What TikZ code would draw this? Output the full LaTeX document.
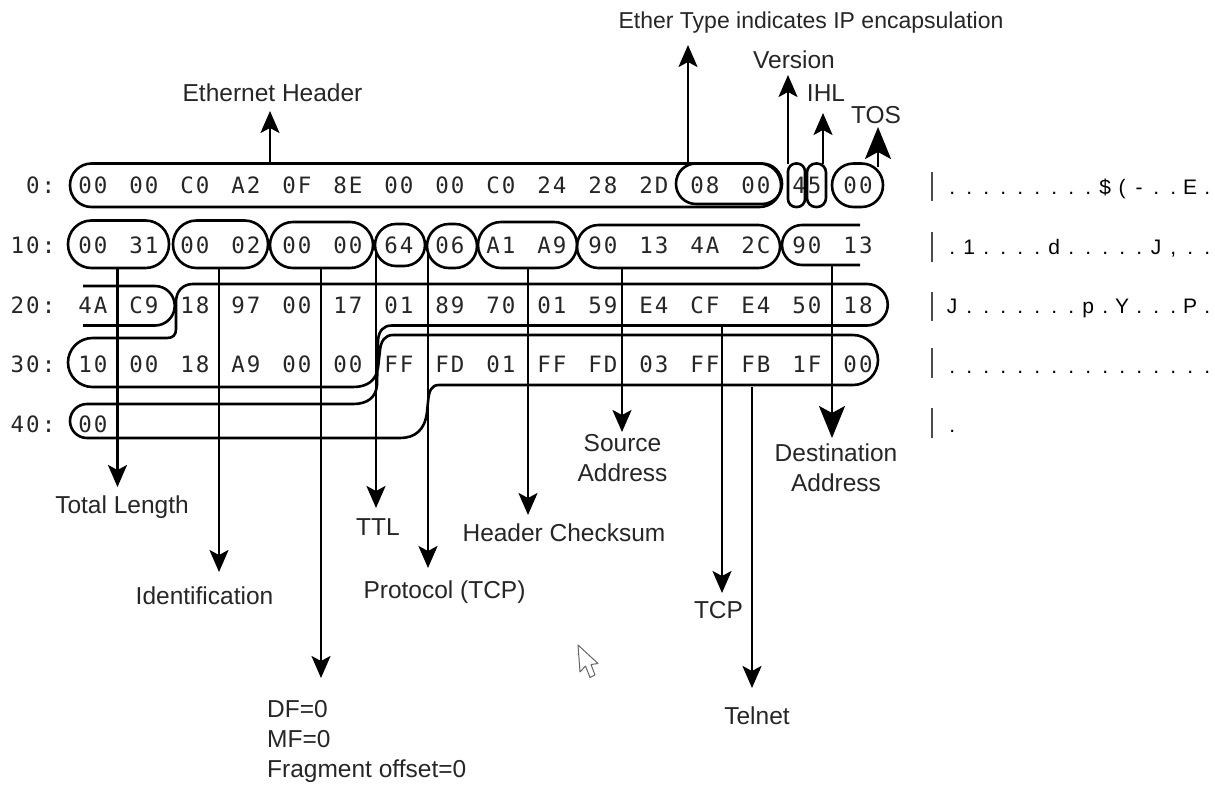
\documentclass[tikz,border=0pt]{standalone}
\usepackage{fontspec}
\setmainfont{Liberation Sans}
\newfontfamily\hexfont{DejaVu Sans Mono}[LetterSpace=9]
\usetikzlibrary{arrows.meta}
\makeatletter
\newcommand{\ascrow}[1]{\@tfor\asctok:=#1\do{\makebox[17pt]{\asctok}}}
\makeatother
\tikzset{
  x=1pt,y=-1pt,
  hex/.style={font=\hexfont\fontsize{22.5}{24}\selectfont,inner sep=0pt,text=black!85},
  rowlab/.style={hex,anchor=east},
  lab/.style={font=\fontsize{24.5}{30}\selectfont,inner sep=0pt,align=center,text=black!85},
  asc/.style={font=\fontsize{21}{24}\selectfont,inner sep=0pt,anchor=base west,text=black},
  bar/.style={draw=black!70,line width=1.3pt},
  pill/.style={draw=black,line width=2.6pt,rounded corners=#1,inner sep=0pt,outer sep=0pt},
  outline/.style={draw=black,line width=2.6pt,line join=round},
  arr/.style={draw=black,line width=2.6pt,-{Stealth[length=22pt,width=19pt,inset=5pt]}},
  bigarr/.style={draw=black,line width=2.6pt,-{Stealth[length=32pt,width=26pt,inset=7pt]}},
}
\newcommand{\hexrow}[3]{%
  \node[rowlab] (lab#1) at (55.5,#2) {#1:};
  \foreach \bb [count=\cc from 0] in {#3}{
    \node[hex] (b#1-\cc) at ({93+51*\cc},#2) {\bb};
  }}
% name, x1, y1, x2, y2, radius
\newcommand{\field}[6]{%
  \node[pill=#6pt,minimum width={(#4-#2)*1pt},minimum height={(#5-#3)*1pt}] (#1) at ({(#2+#4)/2},{(#3+#5)/2}) {};}
\begin{document}
\begin{tikzpicture}
\useasboundingbox (0,0) rectangle (1215,785);
\hexrow{0}{185}{00,00,C0,A2,0F,8E,00,00,C0,24,28,2D,08,00,45,00}
\hexrow{10}{245}{00,31,00,02,00,00,64,06,A1,A9,90,13,4A,2C,90,13}
\hexrow{20}{305}{4A,C9,18,97,00,17,01,89,70,01,59,E4,CF,E4,50,18}
\hexrow{30}{364.5}{10,00,18,A9,00,00,FF,FD,01,FF,FD,03,FF,FB,1F,00}
\hexrow{40}{424}{00}
% ascii column
\foreach \nn/\ya/\yb in {a/172/201,b/232/262,c/292/321,d/348/378,e/408/438}{
  \coordinate (bt\nn) at (932,\ya);
  \coordinate (bb\nn) at (932,\yb);
  \draw[bar] (bt\nn) -- (bb\nn);
}
\node[asc] (ascA) at (943.5,194) {\ascrow{.........\$(-..E.}};
\node[asc] (ascB) at (943.5,254) {\ascrow{.1....d.....J,..}};
\node[asc] (ascC) at (943.5,313) {\ascrow{J.......p.Y...P.}};
\node[asc] (ascD) at (943.5,373) {\ascrow{................}};
\node[asc] (ascE) at (943.5,432) {\ascrow{.}};
% row 0 fields
\field{fEth}{70}{163.5}{781}{207}{21.5}
\field{fType}{676}{163.5}{782}{204}{20}
\field{fVer}{788}{163.5}{805}{207}{8}
\field{fIhl}{807}{163.5}{826}{207}{9}
\field{fTos}{832}{163.5}{883}{207}{21.5}
% row 10 fields
\field{fLen}{68}{220.5}{169}{268}{23.5}
\field{fId}{173}{220.5}{268}{268}{23.5}
\field{fFrag}{270}{222}{373}{268}{23}
\field{fTtl}{375}{224}{425}{266}{21}
\field{fProto}{427}{224}{477}{268}{22}
\field{fChk}{478}{222}{577}{268}{23}
\field{fSrc}{577}{225}{780}{268}{21.5}
% destination address, broken across two rows
\draw[outline] (860,225) -- (802,225) arc[start angle=90,end angle=270,radius=20pt] -- (860,265);
\draw[outline] (83,286) -- (155,286) arc[start angle=90,end angle=-90,radius=19.75pt] -- (83,325.5);
% TCP header and data outline
\draw[outline]
  (193,284) -- (867,284) arc[start angle=90,end angle=-90,radius=20.75pt] -- (392,325.5)
  .. controls (383,325.5) and (379,331) .. (378,340)
  -- (377,385) .. controls (376,397) and (368,404) .. (353,404)
  -- (87,404) arc[start angle=90,end angle=270,radius=17pt] -- (400,438)
  .. controls (415,438) and (425,430) .. (427,412)
  -- (428,402) .. controls (429,391) and (431,385) .. (439,385)
  -- (853,385) arc[start angle=-90,end angle=90,radius=25pt] -- (393,335)
  .. controls (385,335) and (381,341) .. (380,350)
  -- (378,368) .. controls (376,380) and (368,387) .. (353,387)
  -- (92.5,387) arc[start angle=-90,end angle=-270,radius=24.5pt] -- (167,338)
  .. controls (173,338) and (176,335) .. (176,329)
  -- (176,302) .. controls (176,291) and (183,284) .. (193,284) -- cycle;
% arrow ends
\coordinate (tEth) at (270,111);
\coordinate (tType) at (688,45);
\coordinate (tVer) at (788,75);
\coordinate (tIhl) at (823,113);
\coordinate (tTos) at (878,127);
\coordinate (tLen) at (117.5,487);
\coordinate (tId) at (219,572);
\coordinate (tFrag) at (321,678);
\coordinate (tTtl) at (376,508);
\coordinate (tProto) at (428,568);
\coordinate (tChk) at (528,515);
\coordinate (tSrc) at (622,432);
\coordinate (tDst) at (832,438);
\coordinate (tTcp) at (722,593);
\coordinate (tTel) at (752,688);
\coordinate (sDst) at (832,265);
\coordinate (sTcp) at (722,326);
\coordinate (sTel) at (752,387);
\draw[arr] (fEth.north -| tEth) -- (tEth);
\draw[arr] (fType.north -| tType) -- (tType);
\draw[arr] (fVer.north -| tVer) -- (tVer);
\draw[arr] (fIhl.north -| tIhl) -- (tIhl);
\draw[bigarr] (fTos.north -| tTos) ++(0,3) -- (tTos);
\draw[arr] (fLen.south -| tLen) -- (tLen);
\draw[arr] (fId.south -| tId) -- (tId);
\draw[arr] (fFrag.south -| tFrag) -- (tFrag);
\draw[arr] (fTtl.west -| tTtl) ++(0,5) -- (tTtl);
\draw[arr] (fProto.west -| tProto) ++(0,8) -- (tProto);
\draw[arr] (fChk.south -| tChk) -- (tChk);
\draw[arr] (fSrc.south -| tSrc) -- (tSrc);
\draw[bigarr] (sDst) -- (tDst);
\draw[arr] (sTcp) -- (tTcp);
\draw[arr] (sTel) -- (tTel);
% labels
\node[lab] (lEth) at (272.5,93) {Ethernet Header};
\node[lab,font=\fontsize{23}{28}\selectfont] (lType) at (811,23) {Ether Type indicates IP encapsulation};
\node[lab] (lVer) at (794,60) {Version};
\node[lab] (lIhl) at (826,93) {IHL};
\node[lab] (lTos) at (876,115) {TOS};
\node[lab] (lLen) at (122,507) {Total Length};
\node[lab] (lId) at (204.5,596) {Identification};
\node[lab] (lTtl) at (378,527) {TTL};
\node[lab] (lProto) at (444.5,592) {Protocol (TCP)};
\node[lab] (lChk) at (564,533) {Header Checksum};
\node[lab] (lSrc) at (622.5,458) {Source\\Address};
\node[lab] (lDst) at (836,468) {Destination\\Address};
\node[lab] (lTcp) at (718.5,610) {TCP};
\node[lab] (lTel) at (757,716) {Telnet};
\node[lab,align=left,anchor=west] (lFlags) at (267,741) {DF=0\\MF=0\\Fragment offset=0};
% mouse pointer
\draw[draw=black!60,fill=white,line width=1pt,line join=round]
  (578,645) -- (580,672) -- (585.5,666) -- (590,677.5) -- (595,675) -- (591,664.5) -- (598,663.5) -- cycle;
\end{tikzpicture}
\end{document}
